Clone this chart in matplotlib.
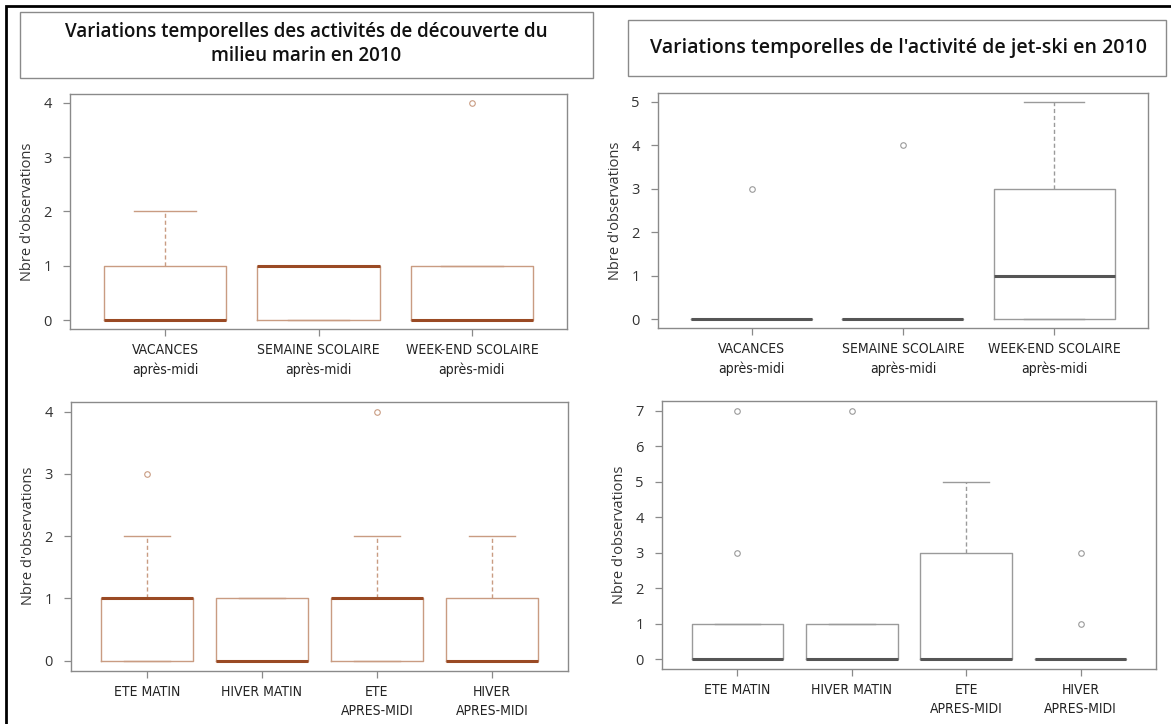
import matplotlib
matplotlib.use("Agg")
import matplotlib.pyplot as plt
from matplotlib.patches import Rectangle

# --- donnees ---
cat_periode = ["VACANCES\naprès-midi", "SEMAINE SCOLAIRE\naprès-midi", "WEEK-END SCOLAIRE\naprès-midi"]
cat_saison = ["ETE MATIN", "HIVER MATIN", "ETE\nAPRES-MIDI", "HIVER\nAPRES-MIDI"]

# decouverte du milieu marin / periode
dec_per_q1 = [0, 0, 0]
dec_per_med = [0, 1, 0]
dec_per_q3 = [1, 1, 1]
dec_per_whislo = [0, 0, 0]
dec_per_whishi = [2, 1, 1]
dec_per_fliers = [[], [], [4]]

# jet-ski / periode
jet_per_q1 = [0, 0, 0]
jet_per_med = [0, 0, 1]
jet_per_q3 = [0, 0, 3]
jet_per_whislo = [0, 0, 0]
jet_per_whishi = [0, 0, 5]
jet_per_fliers = [[3], [4], []]

# decouverte du milieu marin / saison
dec_sai_q1 = [0, 0, 0, 0]
dec_sai_med = [1, 0, 1, 0]
dec_sai_q3 = [1, 1, 1, 1]
dec_sai_whislo = [0, 0, 0, 0]
dec_sai_whishi = [2, 1, 2, 2]
dec_sai_fliers = [[3], [], [4], []]

# jet-ski / saison
jet_sai_q1 = [0, 0, 0, 0]
jet_sai_med = [0, 0, 0, 0]
jet_sai_q3 = [1, 1, 3, 0]
jet_sai_whislo = [0, 0, 0, 0]
jet_sai_whishi = [1, 1, 5, 0]
jet_sai_fliers = [[3, 7], [7], [], [1, 3]]

titre_gauche = "Variations temporelles des activités de découverte du\nmilieu marin en 2010"
titre_droite = "Variations temporelles de l'activité de jet-ski en 2010"

BRUN = "#c99c82"
BRUN_MED = "#9a4a24"
GRIS = "#9a9a9a"
GRIS_MED = "#555555"
CADRE = "#8a8a8a"

plt.rcParams["font.family"] = ["Open Sans", "DejaVu Sans"]
police_x = ["DejaVu Sans"]


def stats(q1, med, q3, wlo, whi, fl):
    return [
        dict(q1=a, med=b, q3=c, whislo=d, whishi=e, fliers=f)
        for a, b, c, d, e, f in zip(q1, med, q3, wlo, whi, fl)
    ]


def boite(ax, st, labels, coul, coul_med, ymax, yticks):
    n = len(st)
    ax.bxp(
        st,
        widths=0.8,
        capwidths=0.4,
        patch_artist=False,
        boxprops=dict(color=coul, linewidth=1.0),
        medianprops=dict(color=coul_med, linewidth=2.2, zorder=5),
        whiskerprops=dict(color=coul, linewidth=1.0, linestyle=(0, (3, 2))),
        capprops=dict(color=coul, linewidth=1.0),
        flierprops=dict(marker="o", markerfacecolor="none", markeredgecolor=coul,
                        markersize=4, markeredgewidth=0.8),
    )
    pad = 0.04 * n
    ax.set_xlim(0.5 - pad, n + 0.5 + pad)
    ax.set_ylim(-0.04 * ymax, ymax * 1.04)
    ax.set_xticks(range(1, n + 1))
    ax.set_xticklabels(labels, fontfamily=police_x, fontstretch="condensed",
                       fontsize=10, linespacing=1.5)
    ax.set_yticks(yticks)
    ax.tick_params(axis="both", direction="out", length=5, color=CADRE, width=0.9)
    ax.tick_params(axis="y", labelsize=10.5, pad=8, labelcolor="#333333")
    ax.tick_params(axis="x", pad=5, labelcolor="#222222")
    for s in ax.spines.values():
        s.set_color(CADRE)
        s.set_linewidth(1.0)
    ax.set_ylabel("Nbre d'observations", fontsize=10.5, color="#333333", labelpad=6)


fig = plt.figure(figsize=(11.71, 7.24), dpi=100)

ax1 = fig.add_axes([0.0598, 0.5456, 0.4244, 0.3246])
ax2 = fig.add_axes([0.5619, 0.5470, 0.4184, 0.3246])
ax3 = fig.add_axes([0.0606, 0.0736, 0.4244, 0.3716])
ax4 = fig.add_axes([0.5653, 0.0760, 0.4219, 0.3701])

boite(ax1, stats(dec_per_q1, dec_per_med, dec_per_q3, dec_per_whislo, dec_per_whishi, dec_per_fliers),
      cat_periode, BRUN, BRUN_MED, 4, range(0, 5))
boite(ax2, stats(jet_per_q1, jet_per_med, jet_per_q3, jet_per_whislo, jet_per_whishi, jet_per_fliers),
      cat_periode, GRIS, GRIS_MED, 5, range(0, 6))
boite(ax3, stats(dec_sai_q1, dec_sai_med, dec_sai_q3, dec_sai_whislo, dec_sai_whishi, dec_sai_fliers),
      cat_saison, BRUN, BRUN_MED, 4, range(0, 5))
boite(ax4, stats(jet_sai_q1, jet_sai_med, jet_sai_q3, jet_sai_whislo, jet_sai_whishi, jet_sai_fliers),
      cat_saison, GRIS, GRIS_MED, 7, range(0, 8))

# cadres des titres
W, H = 1171.0, 724.0
fig.patches.append(Rectangle((20 / W, 1 - 78 / H), 573 / W, 66 / H, transform=fig.transFigure,
                             fill=False, edgecolor="#8a8a8a", linewidth=1.0))
fig.text(306 / W, 1 - 44 / H, titre_gauche, ha="center", va="center", fontsize=13.5,
         fontweight="semibold", linespacing=1.3, color="#111111")
fig.patches.append(Rectangle((628 / W, 1 - 76 / H), 538 / W, 56 / H, transform=fig.transFigure,
                             fill=False, edgecolor="#8a8a8a", linewidth=1.0))
fig.text(898 / W, 1 - 48 / H, titre_droite, ha="center", va="center", fontsize=14,
         fontweight="semibold", color="#111111")

# bordure noire exterieure
fig.patches.append(Rectangle((6 / W, -0.05), 1.2, 1 - 6 / H + 0.05, transform=fig.transFigure,
                             fill=False, edgecolor="black", linewidth=2.0))

fig.savefig("out.png", dpi=100)
